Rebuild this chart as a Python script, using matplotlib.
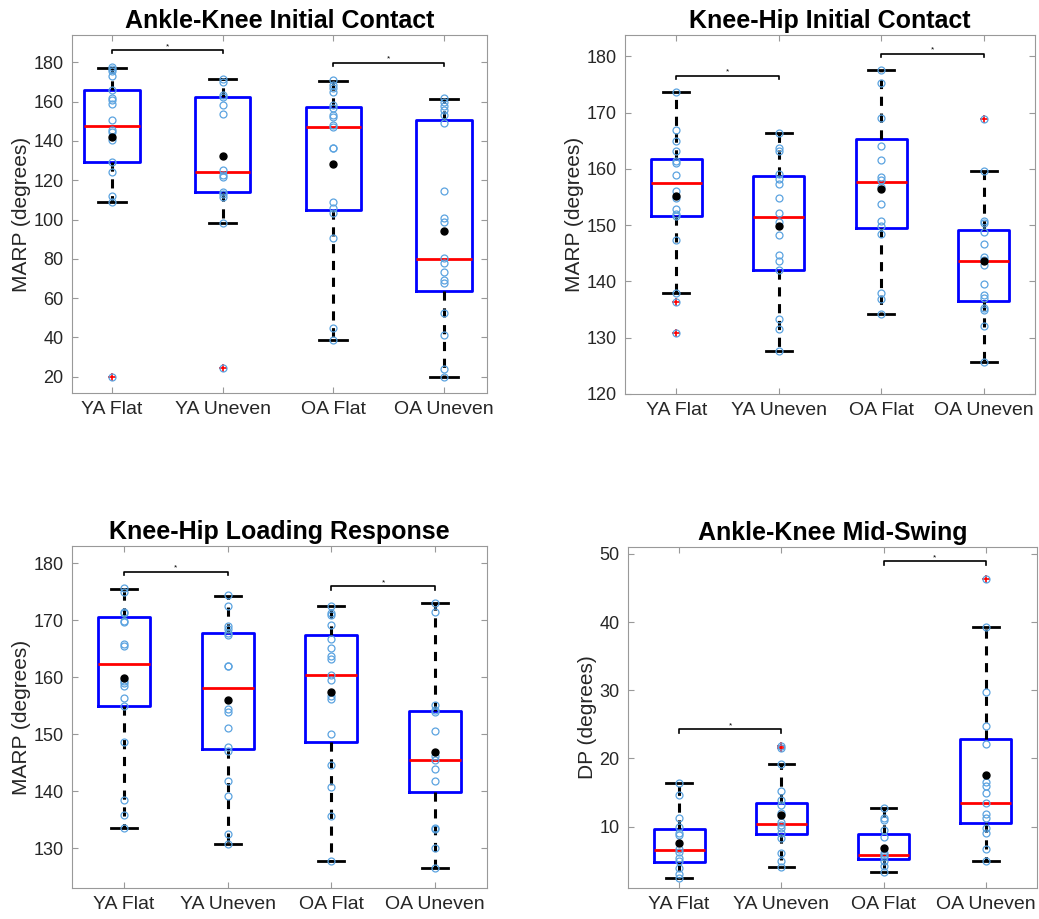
import numpy as np
import matplotlib
matplotlib.use('Agg')
import matplotlib.pyplot as plt

plt.rcParams['font.family'] = ['Liberation Sans', 'DejaVu Sans']

groups = ['YA Flat', 'YA Uneven', 'OA Flat', 'OA Uneven']

# ---------------- Ankle-Knee Initial Contact
akic_hi = [176.9, 171.3, 170.7, 161.2]
akic_q3 = [165.7, 162.2, 157.1, 150.5]
akic_med = [147.8, 124.0, 147.3, 80.1]
akic_q1 = [129.1, 113.8, 104.8, 63.8]
akic_lo = [109.1, 98.1, 38.5, 20.0]
akic_mean = [141.8, 132.5, 128.4, 94.0]
akic_out = [[20.0], [24.2], [], []]
akic_pts = [
    [177.8, 176.4, 175.8, 173.2, 165.9, 161.7, 160.8, 158.8, 150.6, 145.6, 144.7,
     140.5, 129.4, 124.4, 112.1, 108.7, 20.0],
    [171.3, 170.2, 163.4, 162.5, 158.3, 153.5, 125.2, 122.6, 121.8, 114.2, 113.0,
     111.6, 98.1, 24.2],
    [171.0, 168.5, 166.8, 165.1, 158.3, 156.6, 153.2, 152.0, 148.1, 147.3, 136.2,
     136.2, 109.1, 105.7, 103.5, 90.4, 44.6, 38.5],
    [161.7, 160.0, 157.8, 155.7, 153.2, 149.3, 114.5, 100.6, 98.9, 80.2, 78.0,
     73.5, 69.2, 67.5, 52.6, 41.0, 23.7, 20.0],
]
akic_sig = [(0, 1, 186.3), (2, 3, 179.8)]

# ---------------- Knee-Hip Initial Contact
khic_hi = [173.6, 166.3, 177.5, 159.6]
khic_q3 = [161.8, 158.8, 165.3, 149.2]
khic_med = [157.5, 151.4, 157.6, 143.7]
khic_q1 = [151.7, 142.1, 149.5, 136.6]
khic_lo = [138.0, 127.6, 134.3, 125.7]
khic_mean = [155.1, 149.8, 156.4, 143.7]
khic_out = [[136.3, 130.9], [], [], [168.8]]
khic_pts = [
    [173.6, 166.9, 164.9, 163.1, 161.4, 161.0, 158.9, 156.1, 154.8, 152.8, 151.9,
     151.6, 147.3, 138.0, 136.3, 130.9],
    [166.3, 163.7, 163.1, 159.1, 158.2, 157.3, 154.8, 152.2, 150.6, 148.3, 144.7,
     143.7, 142.0, 133.3, 131.5, 127.6],
    [177.5, 175.2, 169.0, 164.1, 161.6, 158.5, 158.0, 156.7, 153.8, 150.7, 149.8,
     148.5, 138.0, 136.9, 134.3],
    [168.8, 159.6, 150.8, 150.4, 148.8, 146.6, 144.3, 143.9, 143.0, 139.5, 137.6,
     137.0, 135.3, 135.0, 132.1, 125.7],
]
khic_sig = [(0, 1, 176.6), (2, 3, 180.5)]

# ---------------- Knee-Hip Loading Response
khlr_hi = [175.4, 174.3, 172.4, 173.0]
khlr_q3 = [170.5, 167.8, 167.3, 154.0]
khlr_med = [162.3, 158.1, 160.3, 145.5]
khlr_q1 = [154.9, 147.3, 148.7, 139.8]
khlr_lo = [133.5, 130.7, 127.8, 126.5]
khlr_mean = [159.9, 156.0, 157.3, 146.8]
khlr_out = [[], [], [], []]
khlr_pts = [
    [175.6, 175.0, 171.5, 171.2, 169.9, 169.6, 165.8, 165.5, 159.4, 158.9, 158.5,
     156.3, 154.9, 148.7, 138.4, 135.8, 133.5],
    [174.4, 172.5, 168.9, 168.4, 167.7, 167.3, 162.0, 161.9, 154.4, 153.8, 151.1,
     147.7, 147.1, 141.8, 139.1, 132.5, 130.7],
    [172.4, 171.2, 170.9, 169.2, 166.7, 165.1, 163.7, 163.2, 160.4, 159.5, 156.7,
     156.1, 150.0, 144.6, 140.8, 135.6, 127.8],
    [173.0, 171.5, 155.1, 154.3, 153.9, 150.5, 146.1, 145.5, 143.9, 141.8, 133.5,
     133.3, 130.0, 126.5],
]
khlr_sig = [(0, 1, 178.5), (2, 3, 175.9)]

# ---------------- Ankle-Knee Mid-Swing
akms_hi = [16.4, 19.2, 12.8, 39.3]
akms_q3 = [9.6, 13.5, 8.9, 22.8]
akms_med = [6.6, 10.4, 5.9, 13.5]
akms_q1 = [4.8, 8.9, 5.2, 10.6]
akms_lo = [2.4, 4.1, 3.4, 5.0]
akms_mean = [7.6, 11.7, 6.9, 17.6]
akms_out = [[], [21.8, 21.5], [], [46.3]]
akms_pts = [
    [16.4, 14.6, 11.3, 9.9, 9.0, 8.7, 6.7, 6.3, 5.4, 4.9, 4.0, 3.1, 2.4],
    [21.8, 21.5, 19.2, 15.2, 13.9, 13.1, 12.0, 10.7, 10.2, 9.8, 9.0, 8.4, 6.2,
     4.9, 4.1],
    [12.8, 11.2, 10.9, 9.5, 8.5, 6.1, 5.9, 5.6, 4.9, 4.2, 3.4],
    [46.3, 39.3, 29.8, 24.8, 22.1, 16.6, 16.0, 14.9, 13.5, 11.9, 11.2, 9.8, 9.0,
     6.7, 5.0],
]
akms_sig = [(0, 1, 24.3), (2, 3, 48.9)]

TICK_COLOR = '#262626'
AXIS_COLOR = '#999999'
PT_COLOR = '#5ba3e0'


def draw_panel(ax, title, ylabel, lo, q1, med, q3, hi, mean, out, pts, sig,
               ylim, xlim, yticks, bdrop):
    stats = []
    for i in range(len(groups)):
        stats.append(dict(med=med[i], q1=q1[i], q3=q3[i], whislo=lo[i],
                          whishi=hi[i], fliers=out[i], label=groups[i]))
    pos = np.arange(1, len(groups) + 1)
    ax.bxp(stats, positions=pos, widths=0.5, showfliers=True,
           boxprops=dict(color='blue', linewidth=2),
           medianprops=dict(color='red', linewidth=2),
           whiskerprops=dict(color='black', linewidth=2.2, linestyle=(0, (3, 2.5))),
           capprops=dict(color='black', linewidth=2),
           capwidths=0.25,
           flierprops=dict(marker='+', markeredgecolor='red', markersize=6,
                           markeredgewidth=1.2, linestyle='none'))
    for i, p in enumerate(pts):
        ax.plot(np.full(len(p), pos[i]), p, linestyle='none', marker='o',
                markersize=5, markerfacecolor='none', markeredgecolor=PT_COLOR,
                markeredgewidth=0.9, zorder=4)
    ax.plot(pos, mean, linestyle='none', marker='o', markersize=5,
            color='black', zorder=5)

    # significance brackets
    for a, b, y in sig:
        ax.plot([pos[a], pos[a], pos[b], pos[b]], [y - bdrop, y, y, y - bdrop],
                color='black', linewidth=1.2, zorder=3)
        ax.text((pos[a] + pos[b]) / 2, y, '*', ha='center', va='bottom',
                fontsize=6, color='black')

    ax.set_xlim(*xlim)
    ax.set_ylim(*ylim)
    ax.set_yticks(yticks)
    ax.set_xticks(pos)
    ax.set_xticklabels(groups)
    ax.set_title(title, fontsize=18, fontweight='bold', pad=5)
    ax.set_ylabel(ylabel, fontsize=15, color=TICK_COLOR, labelpad=2)
    for s in ax.spines.values():
        s.set_color(AXIS_COLOR)
        s.set_linewidth(0.8)
    ax.tick_params(direction='in', length=4, width=0.8, color=AXIS_COLOR,
                   labelcolor=TICK_COLOR, top=True, right=True, pad=6)
    ax.tick_params(axis='x', labelsize=14)
    ax.tick_params(axis='y', labelsize=13)


fig = plt.figure(figsize=(10.39, 9.19), dpi=100)
W, H = 1039, 919


def add_axes(l, r, t, b):
    return fig.add_axes([l / W, 1 - b / H, (r - l) / W, (b - t) / H])


ax1 = add_axes(72, 487, 35, 393)
ax2 = add_axes(625, 1035, 35, 394)
ax3 = add_axes(72, 487, 546, 888)
ax4 = add_axes(628, 1037, 547, 888)

draw_panel(ax1, 'Ankle-Knee Initial Contact', 'MARP (degrees)',
           akic_lo, akic_q1, akic_med, akic_q3, akic_hi, akic_mean, akic_out,
           akic_pts, akic_sig, (11.7, 193.9), (0.64, 4.39),
           np.arange(20, 181, 20), 1.8)
draw_panel(ax2, 'Knee-Hip Initial Contact', 'MARP (degrees)',
           khic_lo, khic_q1, khic_med, khic_q3, khic_hi, khic_mean, khic_out,
           khic_pts, khic_sig, (120, 183.8), (0.5, 4.5),
           np.arange(120, 181, 10), 0.6)
draw_panel(ax3, 'Knee-Hip Loading Response', 'MARP (degrees)',
           khlr_lo, khlr_q1, khlr_med, khlr_q3, khlr_hi, khlr_mean, khlr_out,
           khlr_pts, khlr_sig, (123.0, 183.0), (0.5, 4.5),
           np.arange(130, 181, 10), 0.6)
draw_panel(ax4, 'Ankle-Knee Mid-Swing', 'DP (degrees)',
           akms_lo, akms_q1, akms_med, akms_q3, akms_hi, akms_mean, akms_out,
           akms_pts, akms_sig, (1.0, 51.0), (0.5, 4.5),
           np.arange(10, 51, 10), 0.5)

fig.savefig('out.png', dpi=100)
